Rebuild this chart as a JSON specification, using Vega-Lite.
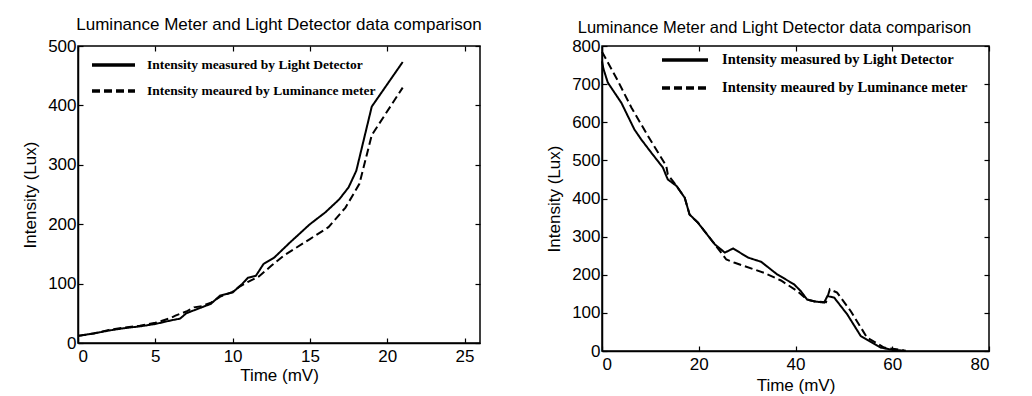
{
  "$schema": "https://vega.github.io/schema/vega-lite/v6.json",
  "background": "white",
  "padding": {"left": 20, "top": 15, "right": 5, "bottom": 0},
  "datasets": {
    "left": [
      {"t": 0, "v": 12, "s": "Intensity measured by Light Detector"},
      {"t": 1, "v": 16, "s": "Intensity measured by Light Detector"},
      {"t": 2, "v": 21, "s": "Intensity measured by Light Detector"},
      {"t": 3, "v": 25, "s": "Intensity measured by Light Detector"},
      {"t": 4, "v": 28, "s": "Intensity measured by Light Detector"},
      {"t": 5, "v": 32, "s": "Intensity measured by Light Detector"},
      {"t": 6, "v": 38, "s": "Intensity measured by Light Detector"},
      {"t": 6.6, "v": 41, "s": "Intensity measured by Light Detector"},
      {"t": 7, "v": 50, "s": "Intensity measured by Light Detector"},
      {"t": 7.5, "v": 55, "s": "Intensity measured by Light Detector"},
      {"t": 8, "v": 60, "s": "Intensity measured by Light Detector"},
      {"t": 8.6, "v": 66, "s": "Intensity measured by Light Detector"},
      {"t": 9.2, "v": 80, "s": "Intensity measured by Light Detector"},
      {"t": 10, "v": 85, "s": "Intensity measured by Light Detector"},
      {"t": 10.6, "v": 99, "s": "Intensity measured by Light Detector"},
      {"t": 11, "v": 110, "s": "Intensity measured by Light Detector"},
      {"t": 11.5, "v": 113, "s": "Intensity measured by Light Detector"},
      {"t": 12, "v": 133, "s": "Intensity measured by Light Detector"},
      {"t": 12.7, "v": 144, "s": "Intensity measured by Light Detector"},
      {"t": 13.7, "v": 169, "s": "Intensity measured by Light Detector"},
      {"t": 15, "v": 200, "s": "Intensity measured by Light Detector"},
      {"t": 16, "v": 220, "s": "Intensity measured by Light Detector"},
      {"t": 16.9, "v": 242, "s": "Intensity measured by Light Detector"},
      {"t": 17.5, "v": 262, "s": "Intensity measured by Light Detector"},
      {"t": 18, "v": 290, "s": "Intensity measured by Light Detector"},
      {"t": 19, "v": 398, "s": "Intensity measured by Light Detector"},
      {"t": 21, "v": 473, "s": "Intensity measured by Light Detector"},
      {"t": 0, "v": 12, "s": "Intensity meaured by Luminance meter"},
      {"t": 1, "v": 16, "s": "Intensity meaured by Luminance meter"},
      {"t": 2, "v": 22, "s": "Intensity meaured by Luminance meter"},
      {"t": 3, "v": 26, "s": "Intensity meaured by Luminance meter"},
      {"t": 4, "v": 29, "s": "Intensity meaured by Luminance meter"},
      {"t": 5, "v": 34, "s": "Intensity meaured by Luminance meter"},
      {"t": 6, "v": 42, "s": "Intensity meaured by Luminance meter"},
      {"t": 6.3, "v": 46, "s": "Intensity meaured by Luminance meter"},
      {"t": 7, "v": 53, "s": "Intensity meaured by Luminance meter"},
      {"t": 7.5, "v": 60, "s": "Intensity meaured by Luminance meter"},
      {"t": 8, "v": 62, "s": "Intensity meaured by Luminance meter"},
      {"t": 8.6, "v": 68, "s": "Intensity meaured by Luminance meter"},
      {"t": 9.2, "v": 78, "s": "Intensity meaured by Luminance meter"},
      {"t": 10, "v": 86, "s": "Intensity meaured by Luminance meter"},
      {"t": 10.4, "v": 94, "s": "Intensity meaured by Luminance meter"},
      {"t": 11, "v": 103, "s": "Intensity meaured by Luminance meter"},
      {"t": 11.7, "v": 112, "s": "Intensity meaured by Luminance meter"},
      {"t": 12.5, "v": 130, "s": "Intensity meaured by Luminance meter"},
      {"t": 13.3, "v": 147, "s": "Intensity meaured by Luminance meter"},
      {"t": 15, "v": 175, "s": "Intensity meaured by Luminance meter"},
      {"t": 16.2, "v": 195, "s": "Intensity meaured by Luminance meter"},
      {"t": 17.3, "v": 228, "s": "Intensity meaured by Luminance meter"},
      {"t": 17.8, "v": 250, "s": "Intensity meaured by Luminance meter"},
      {"t": 18.2, "v": 268, "s": "Intensity meaured by Luminance meter"},
      {"t": 19, "v": 350, "s": "Intensity meaured by Luminance meter"},
      {"t": 21, "v": 430, "s": "Intensity meaured by Luminance meter"}
    ],
    "right": [
      {"t": 0, "v": 760, "s": "Intensity measured by Light Detector"},
      {"t": 0.3, "v": 740, "s": "Intensity measured by Light Detector"},
      {"t": 1.2, "v": 704, "s": "Intensity measured by Light Detector"},
      {"t": 4, "v": 651, "s": "Intensity measured by Light Detector"},
      {"t": 6.7, "v": 581, "s": "Intensity measured by Light Detector"},
      {"t": 8.1, "v": 555, "s": "Intensity measured by Light Detector"},
      {"t": 10.2, "v": 520, "s": "Intensity measured by Light Detector"},
      {"t": 12.6, "v": 481, "s": "Intensity measured by Light Detector"},
      {"t": 13.2, "v": 462, "s": "Intensity measured by Light Detector"},
      {"t": 13.6, "v": 450, "s": "Intensity measured by Light Detector"},
      {"t": 15.4, "v": 433, "s": "Intensity measured by Light Detector"},
      {"t": 17.1, "v": 402, "s": "Intensity measured by Light Detector"},
      {"t": 18.1, "v": 358, "s": "Intensity measured by Light Detector"},
      {"t": 19.8, "v": 337, "s": "Intensity measured by Light Detector"},
      {"t": 23.3, "v": 280, "s": "Intensity measured by Light Detector"},
      {"t": 25.4, "v": 258, "s": "Intensity measured by Light Detector"},
      {"t": 27.1, "v": 269, "s": "Intensity measured by Light Detector"},
      {"t": 30.2, "v": 245, "s": "Intensity measured by Light Detector"},
      {"t": 32.9, "v": 234, "s": "Intensity measured by Light Detector"},
      {"t": 36.2, "v": 201, "s": "Intensity measured by Light Detector"},
      {"t": 39.7, "v": 175, "s": "Intensity measured by Light Detector"},
      {"t": 41.1, "v": 157, "s": "Intensity measured by Light Detector"},
      {"t": 42.4, "v": 135, "s": "Intensity measured by Light Detector"},
      {"t": 44, "v": 130, "s": "Intensity measured by Light Detector"},
      {"t": 45.9, "v": 127, "s": "Intensity measured by Light Detector"},
      {"t": 46.6, "v": 144, "s": "Intensity measured by Light Detector"},
      {"t": 48, "v": 140, "s": "Intensity measured by Light Detector"},
      {"t": 50.7, "v": 96, "s": "Intensity measured by Light Detector"},
      {"t": 53.5, "v": 39, "s": "Intensity measured by Light Detector"},
      {"t": 57.6, "v": 9, "s": "Intensity measured by Light Detector"},
      {"t": 60, "v": 3, "s": "Intensity measured by Light Detector"},
      {"t": 62.4, "v": 1, "s": "Intensity measured by Light Detector"},
      {"t": 0, "v": 785, "s": "Intensity meaured by Luminance meter"},
      {"t": 3.3, "v": 708, "s": "Intensity meaured by Luminance meter"},
      {"t": 6.1, "v": 638, "s": "Intensity meaured by Luminance meter"},
      {"t": 9.5, "v": 564, "s": "Intensity meaured by Luminance meter"},
      {"t": 13.3, "v": 485, "s": "Intensity meaured by Luminance meter"},
      {"t": 13.6, "v": 463, "s": "Intensity meaured by Luminance meter"},
      {"t": 15.4, "v": 433, "s": "Intensity meaured by Luminance meter"},
      {"t": 17.1, "v": 402, "s": "Intensity meaured by Luminance meter"},
      {"t": 18.1, "v": 358, "s": "Intensity meaured by Luminance meter"},
      {"t": 19.8, "v": 337, "s": "Intensity meaured by Luminance meter"},
      {"t": 23.3, "v": 280, "s": "Intensity meaured by Luminance meter"},
      {"t": 25.7, "v": 240, "s": "Intensity meaured by Luminance meter"},
      {"t": 27.3, "v": 232, "s": "Intensity meaured by Luminance meter"},
      {"t": 33.5, "v": 205, "s": "Intensity meaured by Luminance meter"},
      {"t": 37, "v": 185, "s": "Intensity meaured by Luminance meter"},
      {"t": 40.4, "v": 157, "s": "Intensity meaured by Luminance meter"},
      {"t": 42.4, "v": 135, "s": "Intensity meaured by Luminance meter"},
      {"t": 44, "v": 130, "s": "Intensity meaured by Luminance meter"},
      {"t": 46.3, "v": 128, "s": "Intensity meaured by Luminance meter"},
      {"t": 47.1, "v": 162, "s": "Intensity meaured by Luminance meter"},
      {"t": 48.6, "v": 153, "s": "Intensity meaured by Luminance meter"},
      {"t": 51.4, "v": 105, "s": "Intensity meaured by Luminance meter"},
      {"t": 54.8, "v": 35, "s": "Intensity meaured by Luminance meter"},
      {"t": 58.3, "v": 9, "s": "Intensity meaured by Luminance meter"},
      {"t": 60.5, "v": 5, "s": "Intensity meaured by Luminance meter"},
      {"t": 62.8, "v": 1, "s": "Intensity meaured by Luminance meter"}
    ]
  },
  "hconcat": [
    {
      "width": 402,
      "height": 297,
      "title": {"text": "Luminance Meter and Light Detector data comparison", "fontSize": 17, "fontWeight": "normal", "font": "Liberation Sans", "color": "black", "offset": 3},
      "data": {"name": "left"},
      "layer": [
        {
          "mark": {"type": "line", "color": "black", "strokeWidth": 2},
          "encoding": {
            "x": {"field": "t", "type": "quantitative", "scale": {"domain": [0, 25]}, "axis": {"title": "Time (mV)", "values": [0, 5, 10, 15, 20, 25], "orient": "bottom", "labelPadding": 10, "titlePadding": 3}},
            "y": {"field": "v", "type": "quantitative", "scale": {"domain": [0, 500]}, "axis": {"title": "Intensity (Lux)", "values": [0, 100, 200, 300, 400, 500], "orient": "left", "labelPadding": 7, "titlePadding": 8}},
            "strokeDash": {"field": "s", "type": "nominal", "scale": {"domain": ["Intensity measured by Light Detector", "Intensity meaured by Luminance meter"], "range": [[1, 0], [8, 4]]}, "legend": {"orient": "none", "legendX": 12, "legendY": 11, "symbolSize": 1849, "clipHeight": 16, "rowPadding": 10, "labelFontSize": 13.5, "labelOffset": 10}}
          }
        },
        {
          "mark": {"type": "line", "strokeOpacity": 0},
          "encoding": {
            "x": {"field": "t", "type": "quantitative", "axis": {"orient": "top", "labels": false, "title": null, "domain": false, "values": [0, 5, 10, 15, 20, 25]}},
            "y": {"field": "v", "type": "quantitative", "axis": {"orient": "right", "labels": false, "title": null, "domain": false, "values": [0, 100, 200, 300, 400, 500]}},
            "detail": {"field": "s"}
          }
        }
      ],
      "resolve": {"axis": {"x": "independent", "y": "independent"}}
    },
    {
      "width": 387,
      "height": 305,
      "title": {"text": "Luminance Meter and Light Detector data comparison", "fontSize": 16.5, "fontWeight": "normal", "font": "Liberation Sans", "color": "black", "offset": 1, "dx": -21},
      "data": {"name": "right"},
      "layer": [
        {
          "mark": {"type": "line", "color": "black", "strokeWidth": 2},
          "encoding": {
            "x": {"field": "t", "type": "quantitative", "scale": {"domain": [0, 80]}, "axis": {"title": "Time (mV)", "values": [0, 20, 40, 60, 80], "orient": "bottom", "labelPadding": 10, "titlePadding": 5}},
            "y": {"field": "v", "type": "quantitative", "scale": {"domain": [0, 800]}, "axis": {"title": "Intensity (Lux)", "values": [0, 100, 200, 300, 400, 500, 600, 700, 800], "orient": "left", "labelPadding": 7, "titlePadding": 8}},
            "strokeDash": {"field": "s", "type": "nominal", "scale": {"domain": ["Intensity measured by Light Detector", "Intensity meaured by Luminance meter"], "range": [[1, 0], [8, 4]]}, "legend": {"orient": "none", "legendX": 58, "legendY": 6, "symbolSize": 2116, "clipHeight": 16, "rowPadding": 12, "labelFontSize": 14.5, "labelOffset": 12}}
          }
        },
        {
          "mark": {"type": "line", "strokeOpacity": 0},
          "encoding": {
            "x": {"field": "t", "type": "quantitative", "axis": {"orient": "top", "labels": false, "title": null, "domain": false, "values": [0, 20, 40, 60, 80]}},
            "y": {"field": "v", "type": "quantitative", "axis": {"orient": "right", "labels": false, "title": null, "domain": false, "values": [0, 100, 200, 300, 400, 500, 600, 700, 800]}},
            "detail": {"field": "s"}
          }
        }
      ],
      "resolve": {"axis": {"x": "independent", "y": "independent"}}
    }
  ],
  "resolve": {"scale": {"strokeDash": "independent"}, "legend": {"strokeDash": "independent"}},
  "spacing": 61,
  "config": {
    "font": "Liberation Sans",
    "view": {"stroke": "black", "strokeWidth": 1.5},
    "axis": {
      "grid": false,
      "domainColor": "black",
      "domainWidth": 1.5,
      "tickColor": "black",
      "tickSize": -5,
      "tickWidth": 1.2,
      "labelColor": "black",
      "labelFontSize": 17,
      "labelFont": "Liberation Sans",
      "titleColor": "black",
      "titleFontSize": 17,
      "titleFontWeight": "normal",
      "titleFont": "Liberation Sans"
    },
    "legend": {
      "title": null,
      "symbolType": "stroke",
      "symbolStrokeWidth": 3.5,
      "symbolStrokeColor": "black",
      "labelFont": "Liberation Serif",
      "labelFontWeight": "bold",
      "labelColor": "black",
      "labelLimit": 0
    }
  }
}
